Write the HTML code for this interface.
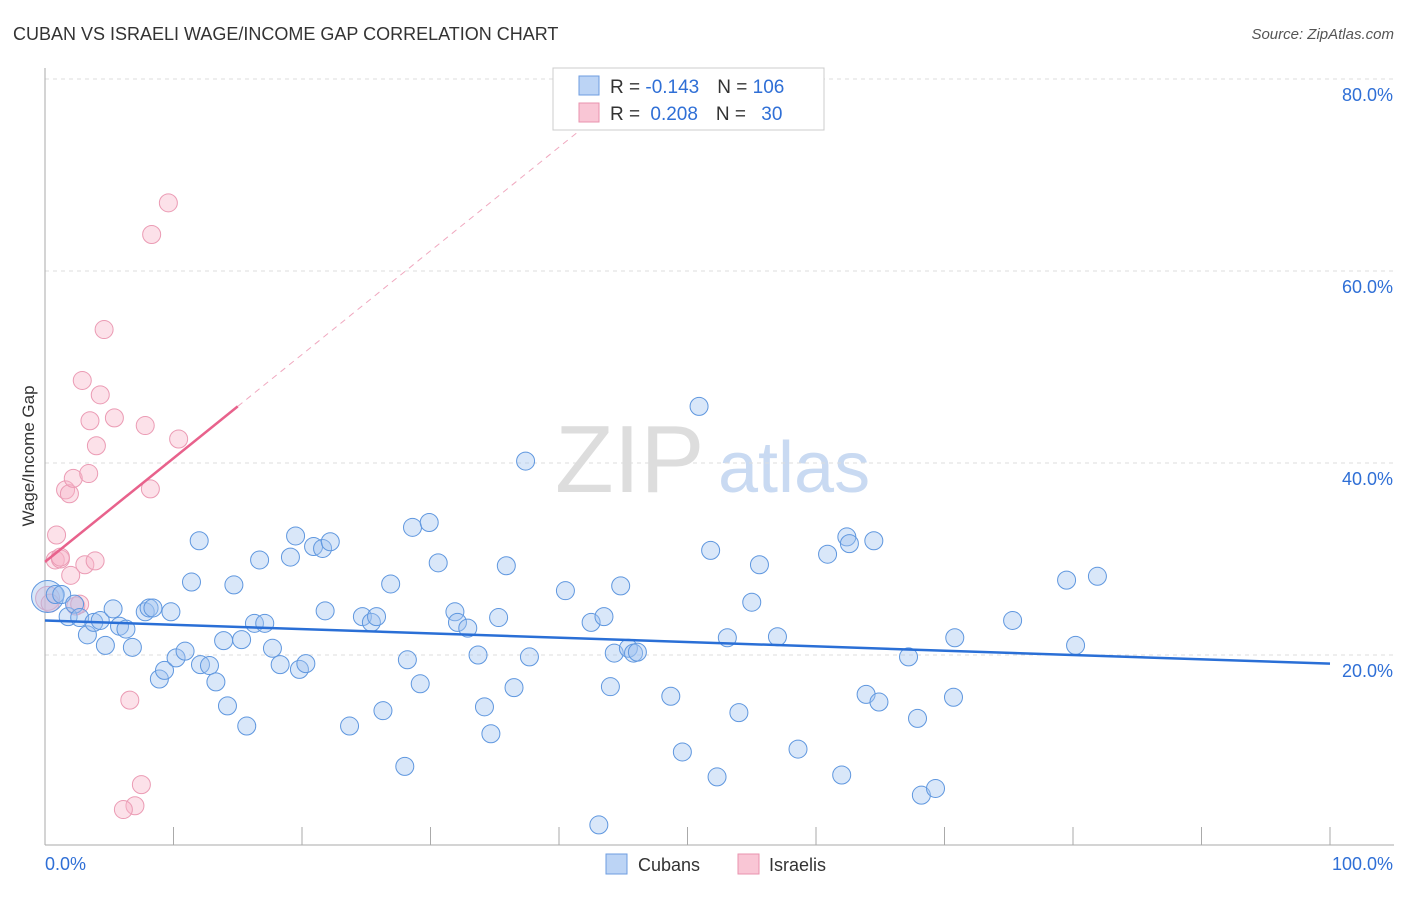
<!DOCTYPE html>
<html><head><meta charset="utf-8"><style>
body{margin:0;background:#fff;font-family:"Liberation Sans",sans-serif;}
svg text{font-family:"Liberation Sans",sans-serif;}
</style></head><body>
<svg id="chart" width="1406" height="892" viewBox="0 0 1406 892" xmlns="http://www.w3.org/2000/svg">
<text x="13" y="40" font-size="18" fill="#333">CUBAN VS ISRAELI WAGE/INCOME GAP CORRELATION CHART</text>
<text x="1394" y="39" font-size="15" fill="#555" font-style="italic" text-anchor="end">Source: ZipAtlas.com</text>
<g>
<text x="555" y="492" font-size="96" font-family="Liberation Serif" fill="#ddd">ZIP</text>
<text x="718" y="492" font-size="72" fill="#c9daf2">atlas</text>
</g>
<g id="grid"></g>
<g id="axes"></g>
<g id="marks"></g>
<text transform="translate(34,456) rotate(-90)" font-size="17" fill="#333" text-anchor="middle">Wage/Income Gap</text>
<g>
<rect x="553" y="68" width="271" height="62" fill="#fff" stroke="#ccc"/>
<rect x="579" y="76" width="20" height="19" fill="#bcd4f5" stroke="#6e9de0"/>
<rect x="579" y="103" width="20" height="19" fill="#f9c6d5" stroke="#e993ae"/>
<text x="610" y="93" font-size="19" fill="#333">R = <tspan fill="#2f6fd6">-0.143</tspan><tspan dx="18">N = </tspan><tspan fill="#2f6fd6">106</tspan></text>
<text x="610" y="120" font-size="19" fill="#333">R = <tspan dx="5" fill="#2f6fd6">0.208</tspan><tspan dx="18">N = </tspan><tspan dx="10" fill="#2f6fd6">30</tspan></text>
</g>
<g>
<rect x="606" y="854" width="21" height="20" fill="#bcd4f5" stroke="#6e9de0"/>
<text x="638" y="871" font-size="18" fill="#333">Cubans</text>
<rect x="738" y="854" width="21" height="20" fill="#f9c6d5" stroke="#e993ae"/>
<text x="769" y="871" font-size="18" fill="#333">Israelis</text>
</g>
</svg>
<script>
const blueX=[0.2,0.8,1.3,1.8,2.3,2.7,3.3,3.8,4.3,4.7,5.3,5.8,6.3,6.8,7.8,8.1,8.4,8.9,9.3,9.8,10.2,10.9,12.0,11.4,12.1,12.8,13.3,13.9,14.2,14.7,15.3,15.7,16.3,16.7,17.1,17.7,18.3,19.1,19.5,19.8,20.3,20.9,21.6,21.8,22.2,23.7,24.7,25.4,25.8,26.3,26.9,28.0,28.2,28.6,29.2,29.9,30.6,31.9,32.1,32.9,33.7,34.2,34.7,35.3,35.9,36.5,37.4,37.7,40.5,42.5,43.1,43.5,44.0,44.3,44.8,45.4,45.8,46.1,48.7,49.6,50.9,51.8,52.3,53.1,54.0,55.0,55.6,57.0,58.6,60.9,62.0,62.4,62.6,63.9,64.5,64.9,67.2,67.9,68.2,69.3,70.7,70.8,75.3,79.5,80.2,81.9];
const blueY=[26.1,26.3,26.3,24.0,25.3,23.9,22.1,23.4,23.6,21.0,24.8,23.0,22.7,20.8,24.5,24.9,24.9,17.5,18.4,24.5,19.7,20.4,31.9,27.6,19.0,18.9,17.2,21.5,14.7,27.3,21.6,12.6,23.3,29.9,23.3,20.7,19.0,30.2,32.4,18.5,19.1,31.3,31.1,24.6,31.8,12.6,24.0,23.4,24.0,14.2,27.4,8.4,19.5,33.3,17.0,33.8,29.6,24.5,23.4,22.8,20.0,14.6,11.8,23.9,29.3,16.6,40.2,19.8,26.7,23.4,2.3,24.0,16.7,20.2,27.2,20.7,20.2,20.3,15.7,9.9,45.9,30.9,7.3,21.8,14.0,25.5,29.4,21.9,10.2,30.5,7.5,32.3,31.6,15.9,31.9,15.1,19.8,13.4,5.4,6.1,15.6,21.8,23.6,27.8,21.0,28.2];
const pinkX=[0.2,0.4,0.9,0.8,1.2,1.6,1.9,2.0,2.2,2.4,2.7,2.9,3.1,3.5,3.9,4.0,4.3,4.6,3.4,5.4,6.6,7.5,7.0,6.1,7.8,8.3,8.2,9.6,10.4,1.2];
const pinkY=[25.9,25.4,32.5,29.9,30.0,37.2,36.8,28.3,38.4,25.1,25.3,48.6,29.4,44.4,29.8,41.8,47.1,53.9,38.9,44.7,15.3,6.5,4.3,3.9,43.9,63.8,37.3,67.1,42.5,30.2];
const blueTrend=[23.6,19.1];
const pinkTrend=[29.7,1.08];
const xTicks=[0,10,20,30,40,50,60,70,80,90,100];
const yTicks=[20,40,60,80];
const yTickLabels=["20.0%","40.0%","60.0%","80.0%"];
const NS="http://www.w3.org/2000/svg";
const xs=v=>45+v*12.85, ys=v=>847-v*9.6;
function mk(p,t,a){const e=document.createElementNS(NS,t);for(const k in a)e.setAttribute(k,a[k]);p.appendChild(e);return e;}
const grid=document.getElementById('grid'),axes=document.getElementById('axes'),marks=document.getElementById('marks');
yTicks.forEach((t,i)=>{
 const l=mk(grid,'line',{x1:45,x2:1394,y1:ys(t),y2:ys(t),stroke:'#ddd','stroke-dasharray':'4,4'});
 
 
 const tx=mk(axes,'text',{x:1393,y:ys(t)+22,'font-size':18,fill:'#2f6fd6','text-anchor':'end'});
 tx.textContent=yTickLabels[i];
 
 
});
const ax=mk(axes,'line',{x1:45,x2:1394,y1:845,y2:845,stroke:'#aaa'});


const ay=mk(axes,'line',{x1:45,x2:45,y1:68,y2:845,stroke:'#aaa'});


xTicks.forEach(t=>{const l=mk(axes,'line',{x1:xs(t),x2:xs(t),y1:827,y2:845,stroke:'#aaa'});
 
 });
const x0=mk(axes,'text',{x:45,y:870,'font-size':18,fill:'#2f6fd6'});x0.textContent='0.0%';


const x1=mk(axes,'text',{x:1393,y:870,'font-size':18,fill:'#2f6fd6','text-anchor':'end'});x1.textContent='100.0%';


pinkX.forEach((x,i)=>{const c=mk(marks,'circle',{cx:xs(x),cy:ys(pinkY[i]),r:i==0?12:9,fill:'rgba(248,180,200,0.4)',stroke:'#eb9bb4','stroke-width':1});
 
 });
blueX.forEach((x,i)=>{const c=mk(marks,'circle',{cx:xs(x),cy:ys(blueY[i]),r:i==0?16:9,fill:'rgba(160,195,240,0.4)',stroke:'#5f97df','stroke-width':1});
 
 });
const bt=mk(marks,'line',{x1:xs(0),y1:ys(blueTrend[0]),x2:xs(100),y2:ys(blueTrend[1]),stroke:'#2a6fd6','stroke-width':2.5});


const pt=mk(marks,'line',{x1:xs(0),y1:ys(pinkTrend[0]),x2:xs(15),y2:ys(pinkTrend[0]+15*pinkTrend[1]),stroke:'#e8628c','stroke-width':2.5});


const pd=mk(marks,'line',{x1:xs(15),y1:ys(pinkTrend[0]+15*pinkTrend[1]),x2:xs(42.5),y2:ys(pinkTrend[0]+42.5*pinkTrend[1]),stroke:'#f0a8bf','stroke-width':1,'stroke-dasharray':'6,5'});


</script>
</body></html>
